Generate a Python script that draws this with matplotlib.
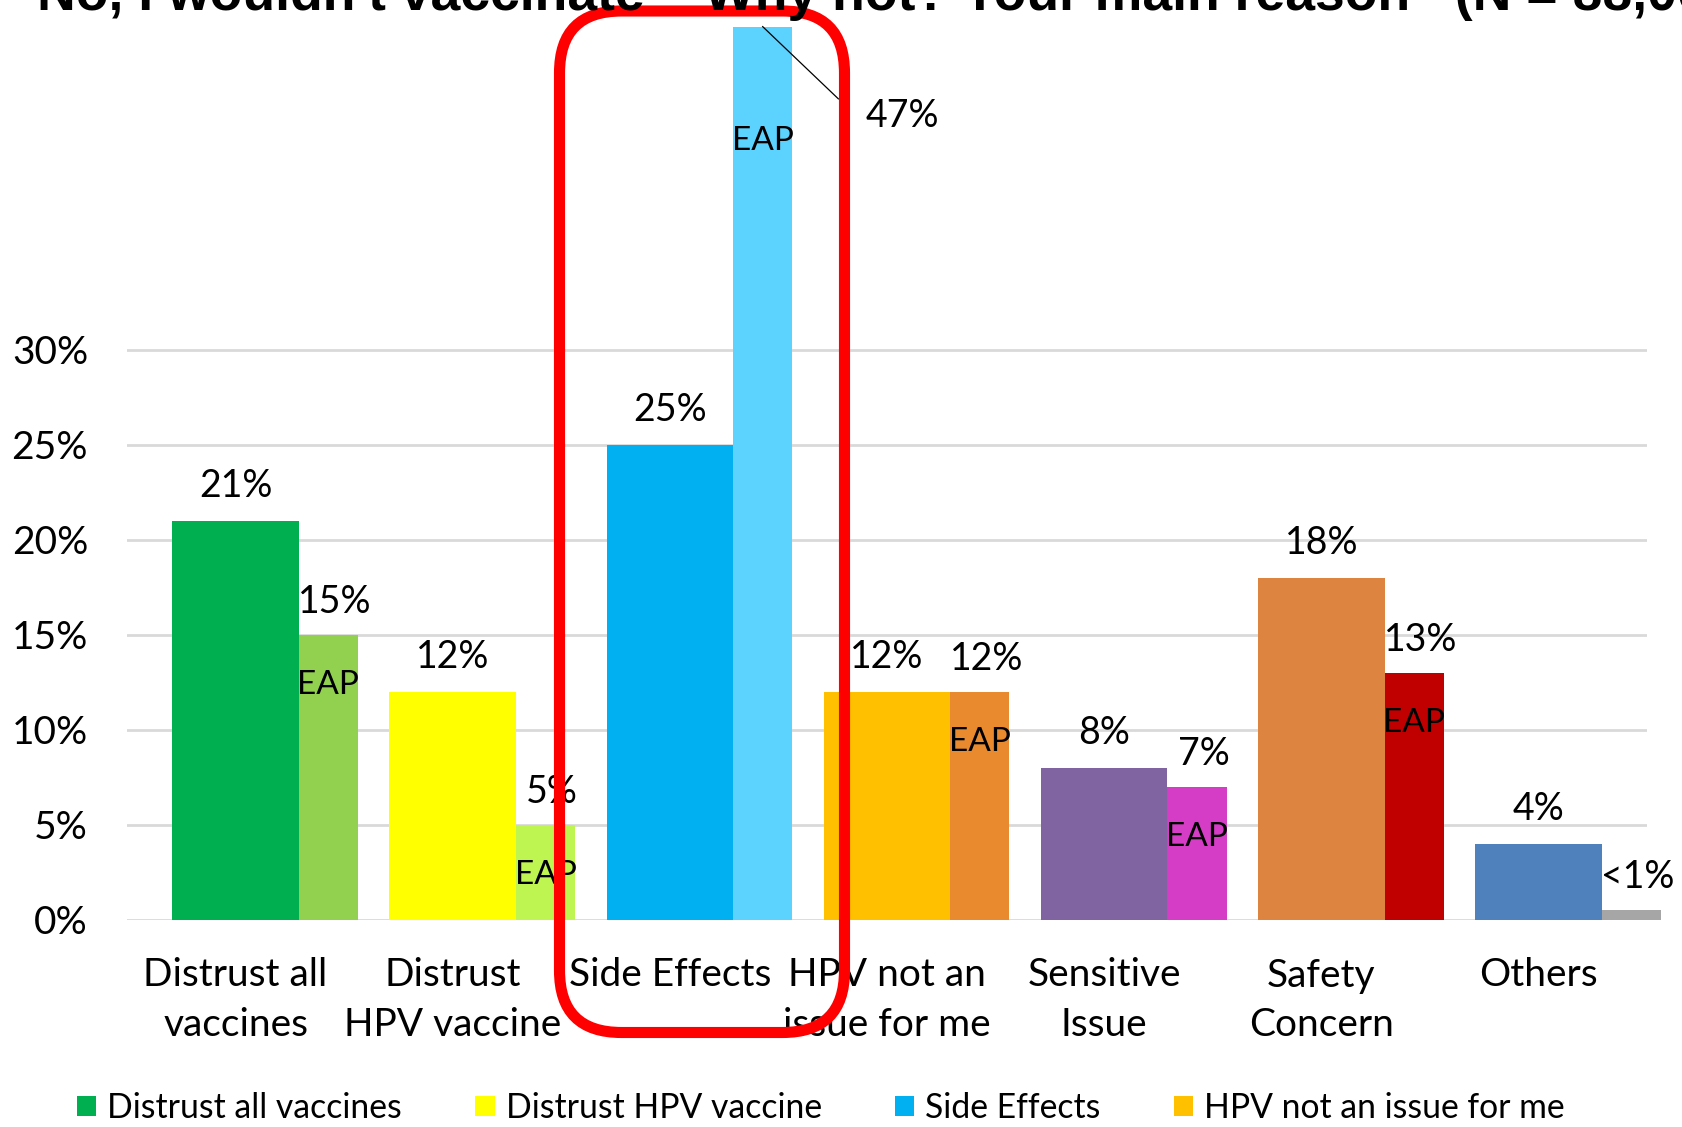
import matplotlib
matplotlib.use('Agg')
import matplotlib.pyplot as plt
import numpy as np
from matplotlib.patches import FancyBboxPatch, Patch

plt.rcParams['font.family'] = ['Lato', 'DejaVu Sans']

# survey answers: all respondents vs EAP sub-group
categories = ['Distrust all\nvaccines', 'Distrust\nHPV vaccine', 'Side Effects',
              'HPV not an\nissue for me', 'Sensitive\nIssue', 'Safety\nConcern', 'Others']
all_values = [21, 12, 25, 12, 8, 18, 4]
all_labels = ['21%', '12%', '25%', '12%', '8%', '18%', '4%']
eap_values = [15, 5, 47, 12, 7, 13, 0.5]
eap_labels = ['15%', '5%', '47%', '12%', '7%', '13%', '<1%']
all_colors = ['#00B050', '#FFFF00', '#00B0F0', '#FFC000', '#8064A2', '#DD8440', '#4F81BD']
eap_colors = ['#92D050', '#BEF551', '#5CD3FF', '#EA8A2E', '#D63DC6', '#C00000', '#A6A6A6']
legend_names = ['Distrust all vaccines', 'Distrust HPV vaccine', 'Side Effects',
                'HPV not an issue for me']
yticks = [0, 5, 10, 15, 20, 25, 30]

title = "No, I wouldn't vaccinate \u2013 Why not? Your main reason   (N = 88,000)"

W, H = 1683, 1127
fig = plt.figure(figsize=(W / 100, H / 100), dpi=100)
fig.patch.set_facecolor('white')

ax = fig.add_axes([127 / W, 1 - 920 / H, (1647 - 127) / W, 920 / H])
ax.set_xlim(-0.5, 6.5)
ax.set_ylim(0, 48.4)

x = np.arange(len(categories))
main_w = 0.583
eap_w = 0.272

ax.bar(x, all_values, width=main_w, color=all_colors, zorder=2)
eap_bars = ax.bar(x + main_w / 2, eap_values, width=eap_w, align='edge',
                  color=eap_colors, zorder=2)
for b in eap_bars:
    b.set_clip_on(False)

# grid / axes styling
ax.set_yticks(yticks)
ax.set_yticklabels([f'{t}%' for t in yticks], fontsize=28)
ax.yaxis.grid(True, color='#D9D9D9', lw=2)
ax.set_axisbelow(True)
for s in ax.spines.values():
    s.set_visible(False)
ax.tick_params(length=0)
ax.tick_params(axis='y', pad=28)
ax.set_xticks(x)
ax.set_xticklabels(categories, fontsize=28, linespacing=1.45)
ax.tick_params(axis='x', pad=27)

# value labels
for xi, v, lbl in zip(x, all_values, all_labels):
    ax.annotate(lbl, (xi, v), xytext=(0, 17), textcoords='offset points',
                ha='center', va='baseline', fontsize=27)

eap_cx = x + main_w / 2 + eap_w / 2
for i, (xi, v, lbl) in enumerate(zip(eap_cx, eap_values, eap_labels)):
    if lbl == '47%':
        # label sits beside the bar with a leader line
        ax.plot([xi, 2.776], [v, 43.2], color='black', lw=0.9, clip_on=False, zorder=3)
        ax.text(3.07, 42.3, lbl, ha='center', va='center', fontsize=27)
        ax.text(xi, 41.0, 'EAP', ha='center', va='center', fontsize=24)
        continue
    ax.annotate(lbl, (xi + 0.03, v), xytext=(0, 16), textcoords='offset points',
                ha='center', va='baseline', fontsize=27, annotation_clip=False)
    if lbl != '<1%':
        ax.annotate('EAP', (xi, v), xytext=(0, -36), textcoords='offset points',
                    ha='center', va='center', fontsize=24)

fig.text(37 / W, 1 - 10 / H, title, fontsize=38.5, fontweight='bold',
         family='Liberation Sans', ha='left', va='baseline')

# highlight box around "Side Effects"
ov = fig.add_axes([0, 0, 1, 1])
ov.set_xlim(0, W)
ov.set_ylim(H, 0)
ov.axis('off')
ov.patch.set_alpha(0)
ov.add_patch(FancyBboxPatch((559.5, 11), 285, 1021.5,
                            boxstyle='round,pad=0,rounding_size=62',
                            fill=False, ec='#FF0000', lw=8))

handles = [Patch(facecolor=c, edgecolor='none') for c in all_colors[:4]]
fig.legend(handles, legend_names, loc='center left',
           bbox_to_anchor=(77 / W, 1 - 1108 / H), bbox_transform=fig.transFigure,
           ncol=4, frameon=False, fontsize=24.3, borderpad=0, borderaxespad=0,
           handlelength=0.57, handleheight=0.57, handletextpad=0.33,
           columnspacing=2.17)

fig.savefig('out.png', dpi=100, facecolor='white')
